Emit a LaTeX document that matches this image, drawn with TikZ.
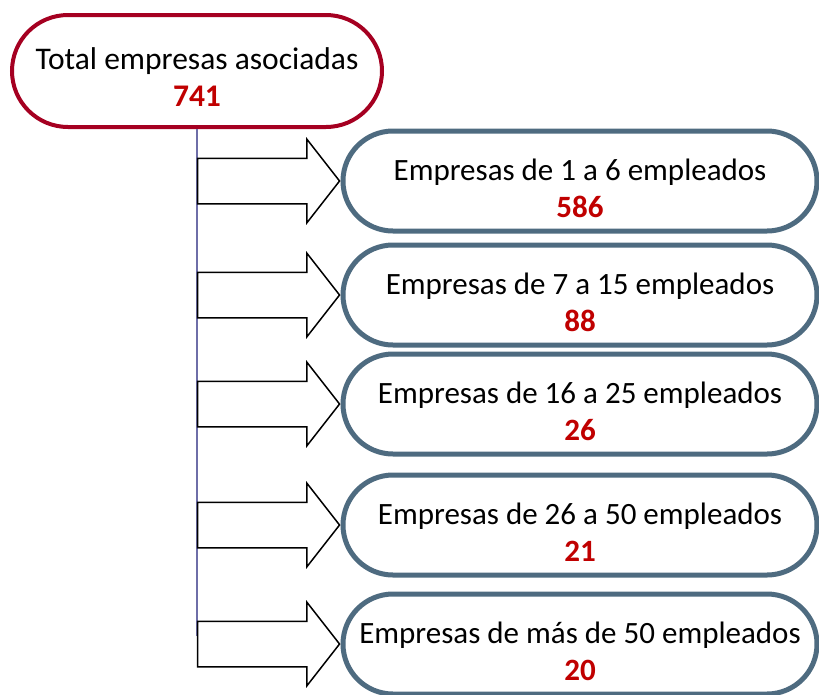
\documentclass[tikz,border=0pt]{standalone}
\usepackage{fontspec}
\setmainfont{Carlito}
\usetikzlibrary{shapes.arrows}
\definecolor{totalred}{HTML}{A50021}
\definecolor{numred}{HTML}{C00000}
\definecolor{groupblue}{HTML}{4E6B80}
\definecolor{trunkblue}{HTML}{6E6EA8}
\newcommand{\num}[1]{{\bfseries\color{numred}#1}}
\begin{document}
\begin{tikzpicture}[x=1pt, y=-1pt,
	total/.style={rectangle, rounded corners=56pt, draw=totalred, line width=4pt, fill=white, minimum width=370pt, minimum height=112pt, align=center, text height=70pt, text depth=0pt, font=\fontsize{31.5pt}{37pt}\selectfont},
	group/.style={rectangle, rounded corners=50pt, draw=groupblue, line width=5pt, fill=white, minimum width=474pt, minimum height=100pt, align=center, text height=72pt, text depth=0pt, font=\fontsize{31pt}{37pt}\selectfont},
	blockarrow/.style={single arrow, draw=black, line width=1.5pt, fill=white, inner xsep=0pt, inner ysep=22pt, minimum width=0pt, minimum height=142pt, single arrow head extend=19pt, single arrow tip angle=104, anchor=tip}]
	\useasboundingbox (0,0) rectangle (819,694);
			\node[total] (tot) at (197, 71) {Total empresas asociadas\\ \num{741}};
			\node[group] (g1) at (580, 181) {Empresas de 1 a 6 empleados\\ \num{586}};
			\node[group] (g2) at (580, 295) {Empresas de 7 a 15 empleados\\ \num{88}};
			\node[group] (g3) at (580, 404) {Empresas de 16 a 25 empleados\\ \num{26}};
			\node[group] (g4) at (580, 525) {Empresas de 26 a 50 empleados\\ \num{21}};
			\node[group] (g5) at (580, 644) {Empresas de más de 50 empleados\\ \num{20}};
			\draw[trunkblue, line width=1.2pt] (tot.south -| 197, 0) -- (197, 636);
			\node[blockarrow] (a1) at (g1.west) {};
			\node[blockarrow] (a2) at (g2.west) {};
			\node[blockarrow] (a3) at (g3.west) {};
			\node[blockarrow] (a4) at (g4.west) {};
			\node[blockarrow] (a5) at (g5.west) {};
		\end{tikzpicture}
\end{document}
